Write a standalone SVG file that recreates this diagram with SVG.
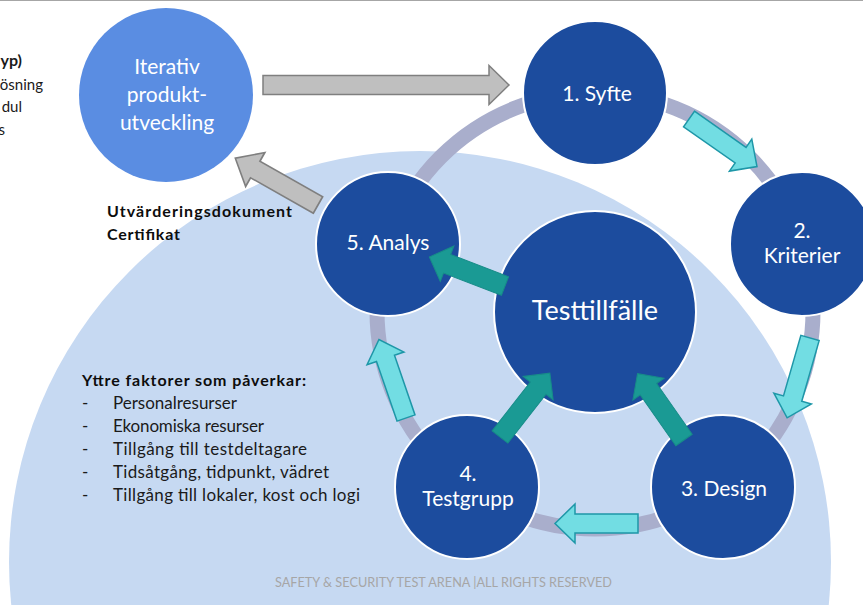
<svg xmlns="http://www.w3.org/2000/svg" width="863" height="605" viewBox="0 0 863 605">
  <defs>
    <style>
      .txt{font-family:Lato,"Open Sans","Liberation Sans",sans-serif}
      .node circle{fill:#1C4C9E;stroke:#FFFFFF;stroke-width:2}
      .label{font-family:Lato,"Open Sans","Liberation Sans",sans-serif;fill:#FFFFFF;text-anchor:middle;font-size:21px}
      .big{font-size:27px}
      .note{font-family:Lato,"Open Sans","Liberation Sans",sans-serif;font-size:17px;fill:#1A1A1A}
      .bold{font-weight:bold;fill:#0D0D0D}
      .gray{fill:#BFBFBF;stroke:#7F7F7F;stroke-width:1.5}
      .cyan{fill:#72DDE3;stroke:#1E97A8;stroke-width:1.5}
      .teal{fill:#1A9A94;stroke:#178C88;stroke-width:1}
      .footer{font-family:Lato,"Liberation Sans",sans-serif;font-size:13px;fill:#A6A6A6}
    </style>
    <!-- block arrows, pointing along +x with the tail at the origin -->
    <path id="arrowRing" d="M0,-9.5H63V-19.5L83,0L63,19.5V9.5H0Z"/>
    <path id="arrowHub" d="M0,-10H62V-19L81,0L62,19V10H0Z"/>
  </defs>

  <!-- page -->
  <rect x="0" y="0" width="863" height="605" fill="#FFFFFF"/>
  <line x1="0" y1="0.5" x2="863" y2="0.5" stroke="#A6A6A6" stroke-width="1"/>

  <!-- context area behind the test cycle -->
  <circle id="context" cx="420" cy="562" r="411" fill="#C6D9F2"/>

  <!-- clipped text from the neighbouring column -->
  <g class="txt" font-size="15" fill="#1A1A1A" text-anchor="end">
    <text x="22" y="66" font-weight="bold" font-size="16">yp)</text>
    <text x="43" y="90">ösning</text>
    <text x="22" y="112">dul</text>
    <text x="5" y="135">s</text>
  </g>

  <!-- cycle ring -->
  <circle id="ring" cx="595" cy="311" r="218" fill="none" stroke="#A9AECC" stroke-width="15"/>

  <!-- nodes -->
  <g id="node-iterativ">
    <circle cx="166" cy="95" r="87" fill="#5A8DE2"/>
    <text class="label" x="167" y="74" fill="#F2F5FC">Iterativ</text>
    <text class="label" x="167" y="102" fill="#F2F5FC">produkt-</text>
    <text class="label" x="167" y="130" fill="#F2F5FC">utveckling</text>
  </g>
  <g id="node-syfte" class="node">
    <circle cx="595" cy="93" r="72"/>
    <text class="label" x="597" y="101">1. Syfte</text>
  </g>
  <g id="node-kriterier" class="node">
    <circle cx="802" cy="244" r="72"/>
    <text class="label" x="802" y="238">2.</text>
    <text class="label" x="802" y="263">Kriterier</text>
  </g>
  <g id="node-design" class="node">
    <circle cx="723" cy="487" r="72"/>
    <text class="label" x="724" y="496">3. Design</text>
  </g>
  <g id="node-testgrupp" class="node">
    <circle cx="467" cy="487" r="72"/>
    <text class="label" x="468" y="481">4.</text>
    <text class="label" x="468" y="506">Testgrupp</text>
  </g>
  <g id="node-analys" class="node">
    <circle cx="388" cy="244" r="72"/>
    <text class="label" x="388" y="250">5. Analys</text>
  </g>
  <g id="node-testtillfalle" class="node">
    <circle cx="595" cy="312" r="101"/>
    <text class="label big" x="595" y="320">Testtillfälle</text>
  </g>

  <!-- connectors -->
  <g id="connectors">
    <!-- product development loop -->
    <path class="gray" d="M263,75.5H489V65.5L509,85L489,104.5V94.5H263Z"/>
    <use href="#arrowRing" class="gray" transform="translate(318,205) rotate(209.5) scale(1.145,1)"/>
    <!-- cycle steps -->
    <use href="#arrowRing" class="cyan" transform="translate(689,119) rotate(35)"/>
    <use href="#arrowRing" class="cyan" transform="translate(810,338) rotate(106)"/>
    <use href="#arrowRing" class="cyan" transform="translate(638,523.5) rotate(180)"/>
    <use href="#arrowRing" class="cyan" transform="translate(406,418) rotate(251)"/>
    <!-- hub links -->
    <use href="#arrowHub" class="teal" transform="translate(505,286) rotate(201)"/>
    <use href="#arrowHub" class="teal" transform="translate(500,437) rotate(-52)"/>
    <use href="#arrowHub" class="teal" transform="translate(684,440) rotate(-125)"/>
  </g>

  <!-- outputs -->
  <g class="note">
    <text class="bold" x="107" y="217" font-size="16" textLength="185">Utvärderingsdokument</text>
    <text class="bold" x="107" y="240" font-size="16" textLength="73">Certifikat</text>
  </g>

  <!-- external factors -->
  <g class="note">
    <text class="bold" x="82" y="386" font-size="16" textLength="224">Yttre faktorer som påverkar:</text>
    <text x="82" y="409">-</text>
    <text x="113" y="409" textLength="124">Personalresurser</text>
    <text x="82" y="432">-</text>
    <text x="113" y="432" textLength="151">Ekonomiska resurser</text>
    <text x="82" y="455">-</text>
    <text x="113" y="455" textLength="194">Tillgång till testdeltagare</text>
    <text x="82" y="478">-</text>
    <text x="113" y="478" textLength="216">Tidsåtgång, tidpunkt, vädret</text>
    <text x="82" y="501">-</text>
    <text x="113" y="501" textLength="247">Tillgång till lokaler, kost och logi</text>
  </g>

  <text class="footer" x="275" y="587" textLength="337" lengthAdjust="spacingAndGlyphs">SAFETY &amp; SECURITY TEST ARENA |ALL RIGHTS RESERVED</text>
</svg>
